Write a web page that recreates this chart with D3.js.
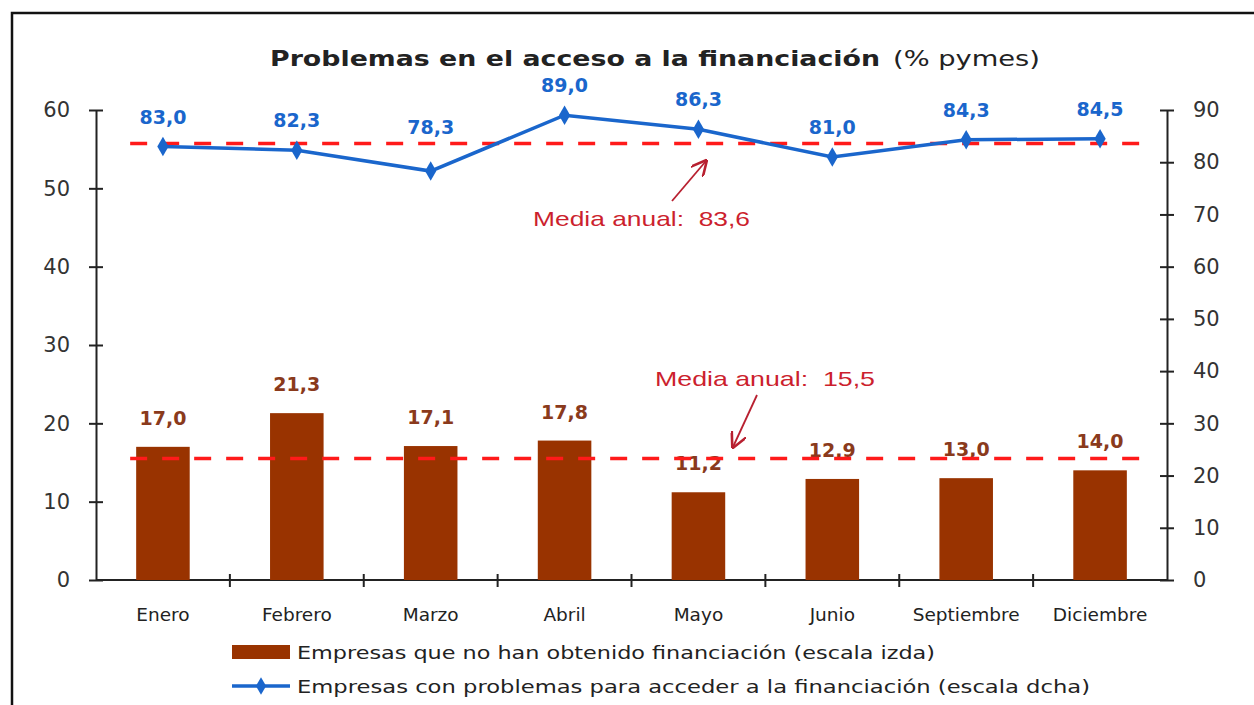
<!DOCTYPE html>
<html><head><meta charset="utf-8">
<script src="https://cdn.jsdelivr.net/npm/d3@7"></script>
<style>body{margin:0;background:#fff}svg{display:block}</style>
</head><body>
<svg id="c" width="1254" height="705"></svg>
<script>
const categories = ["Enero","Febrero","Marzo","Abril","Mayo","Junio","Septiembre","Diciembre"];
const barValues = [17.0,21.3,17.1,17.8,11.2,12.9,13.0,14.0];
const lineValues = [83.0,82.3,78.3,89.0,86.3,81.0,84.3,84.5];
const leftTicks = [0,10,20,30,40,50,60];
const rightTicks = [0,10,20,30,40,50,60,70,80,90];
const barMean = 15.5, lineMean = 83.6;
const titleBold = "Problemas en el acceso a la financiación";
const titleRest = "(% pymes)";
const barSeriesName = "Empresas que no han obtenido financiación (escala izda)";
const lineSeriesName = "Empresas con problemas para acceder a la financiación (escala dcha)";

const svg = d3.select("#c");
const font = "'DejaVu Sans',sans-serif";
const L = 96, R = 1167, T = 110, B = 580;
const brown = "#993300", blue = "#1a66cc", red = "#ff1a1a", annot = "#cc1f2e";
const fmt = v => v.toFixed(1).replace(".",",");

// frame
svg.append("path").attr("d","M12,705 L12,13 L1254,13").attr("fill","none").attr("stroke","#111").attr("stroke-width",2.5);

// title
svg.append("text").attr("x",270).attr("y",66).attr("font-family",font).attr("font-size",22)
  .attr("font-weight","bold").attr("fill","#222").attr("textLength",610).attr("lengthAdjust","spacingAndGlyphs").text(titleBold);
svg.append("text").attr("x",893).attr("y",66).attr("font-family",font).attr("font-size",22)
  .attr("fill","#222").attr("textLength",147).attr("lengthAdjust","spacingAndGlyphs").text(titleRest);

const x = d3.scaleBand().domain(categories).range([L,R]).paddingInner(0.6).paddingOuter(0.3);
const yL = d3.scaleLinear().domain([0,60]).range([B,T]);
const yR = d3.scaleLinear().domain([0,90]).range([B,T]);

// axes
const axL = svg.append("g").attr("transform",`translate(${L},0)`)
  .call(d3.axisLeft(yL).tickValues(leftTicks).tickSize(0).tickPadding(26));
axL.select(".domain").attr("stroke","#222").attr("stroke-width",2);
axL.selectAll(".tick").append("line").attr("x1",-7).attr("x2",7).attr("stroke","#222").attr("stroke-width",2);
axL.selectAll("text").attr("font-family",font).attr("font-size",21).attr("fill","#333");

const axR = svg.append("g").attr("transform",`translate(${R},0)`)
  .call(d3.axisRight(yR).tickValues(rightTicks).tickSize(0).tickPadding(26));
axR.select(".domain").attr("stroke","#222").attr("stroke-width",2);
axR.selectAll(".tick").append("line").attr("x1",-7).attr("x2",7).attr("stroke","#222").attr("stroke-width",2);
axR.selectAll("text").attr("font-family",font).attr("font-size",21).attr("fill","#333");

// x axis
svg.append("line").attr("x1",L).attr("x2",R).attr("y1",B).attr("y2",B).attr("stroke","#222").attr("stroke-width",2);
const step = x.step();
categories.forEach((c,i)=>{
  const bx = x(c) + x.bandwidth()/2 + step/2;
  if (i < categories.length-1)
    svg.append("line").attr("x1",bx).attr("x2",bx).attr("y1",B-6).attr("y2",B+7).attr("stroke","#222").attr("stroke-width",2);
});
svg.append("g").selectAll("text").data(categories).join("text")
  .attr("x",d=>x(d)+x.bandwidth()/2).attr("y",621).attr("text-anchor","middle")
  .attr("font-family",font).attr("font-size",18.5).attr("fill","#222").text(d=>d);

// bars
svg.append("g").selectAll("rect").data(barValues).join("rect")
  .attr("x",(d,i)=>x(categories[i])).attr("width",x.bandwidth())
  .attr("y",d=>yL(d)).attr("height",d=>B-yL(d)).attr("fill",brown);
svg.append("g").selectAll("text").data(barValues).join("text")
  .attr("x",(d,i)=>x(categories[i])+x.bandwidth()/2).attr("y",d=>yL(d)-22)
  .attr("text-anchor","middle").attr("font-family",font).attr("font-size",19).attr("font-weight","bold")
  .attr("fill","#8a3a1c").text(fmt);

// mean lines
const mx1 = x(categories[0])-6, mx2 = x(categories[categories.length-1])+x.bandwidth()+22;
svg.append("line").attr("x1",mx1).attr("x2",mx2).attr("y1",yL(barMean)).attr("y2",yL(barMean))
  .attr("stroke",red).attr("stroke-width",3.5).attr("stroke-dasharray","17,15");
svg.append("line").attr("x1",mx1).attr("x2",mx2).attr("y1",yR(lineMean)).attr("y2",yR(lineMean))
  .attr("stroke",red).attr("stroke-width",3.5).attr("stroke-dasharray","17,15");

// line series
const cx = (d,i)=>x(categories[i])+x.bandwidth()/2;
svg.append("path").datum(lineValues)
  .attr("d",d3.line().x(cx).y(d=>yR(d)))
  .attr("fill","none").attr("stroke",blue).attr("stroke-width",3.5);
svg.append("g").selectAll("path").data(lineValues).join("path")
  .attr("transform",(d,i)=>`translate(${cx(d,i)},${yR(d)})`)
  .attr("d",d3.symbol(d3.symbolDiamond,110)).attr("fill",blue);
svg.append("g").selectAll("text").data(lineValues).join("text")
  .attr("x",cx).attr("y",d=>Math.min(yR(d)-23, yR(lineMean)-9)).attr("text-anchor","middle")
  .attr("font-family",font).attr("font-size",19).attr("font-weight","bold")
  .attr("fill",blue).text(fmt);

// annotations
const defs = svg.append("defs");
defs.append("marker").attr("id","ah").attr("viewBox","0 0 10 10").attr("refX",9).attr("refY",5)
  .attr("markerWidth",9).attr("markerHeight",9).attr("orient","auto")
  .append("path").attr("d","M0,0 L10,5 L0,10").attr("fill","none").attr("stroke","#b82030").attr("stroke-width",1.6);
svg.append("line").attr("x1",672).attr("y1",201).attr("x2",706).attr("y2",161)
  .attr("stroke","#b82030").attr("stroke-width",1.8).attr("marker-end","url(#ah)");
svg.append("line").attr("x1",757).attr("y1",395).attr("x2",733).attr("y2",447)
  .attr("stroke","#b82030").attr("stroke-width",1.8).attr("marker-end","url(#ah)");
svg.append("text").attr("x",533).attr("y",226).style("white-space","pre")
  .attr("font-family","'Liberation Sans','Open Sans',sans-serif").attr("font-size",21).attr("fill",annot)
  .attr("textLength",217).attr("lengthAdjust","spacingAndGlyphs").text("Media anual:  " + fmt(lineMean));
svg.append("text").attr("x",655).attr("y",386).style("white-space","pre")
  .attr("font-family","'Liberation Sans','Open Sans',sans-serif").attr("font-size",21).attr("fill",annot)
  .attr("textLength",220).attr("lengthAdjust","spacingAndGlyphs").text("Media anual:  " + fmt(barMean));

// legend
svg.append("rect").attr("x",232).attr("y",645).attr("width",58).attr("height",14).attr("fill",brown);
svg.append("text").attr("x",297).attr("y",659).attr("font-family",font).attr("font-size",17).attr("fill","#222")
  .attr("textLength",638).attr("lengthAdjust","spacingAndGlyphs").text(barSeriesName);
svg.append("line").attr("x1",232).attr("x2",290).attr("y1",686).attr("y2",686).attr("stroke",blue).attr("stroke-width",3.5);
svg.append("path").attr("transform","translate(261,686)").attr("d",d3.symbol(d3.symbolDiamond,90)).attr("fill",blue);
svg.append("text").attr("x",297).attr("y",693).attr("font-family",font).attr("font-size",17).attr("fill","#222")
  .attr("textLength",793).attr("lengthAdjust","spacingAndGlyphs").text(lineSeriesName);
</script>
</body></html>
